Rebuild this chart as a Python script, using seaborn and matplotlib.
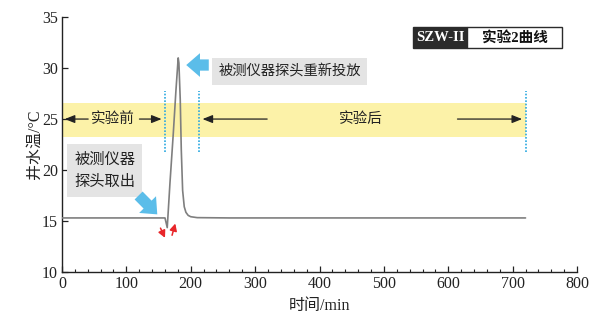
import matplotlib
matplotlib.use("Agg")
import matplotlib.pyplot as plt
from matplotlib.patches import Rectangle
from matplotlib.ticker import MultipleLocator
import seaborn as sns
import pandas as pd

# Well-water temperature record for experiment 2 (time in min, temperature in °C)
time_min = [0, 60, 120, 160, 163.5, 167.7, 172.9, 177, 180.5, 181.6, 183.7,
            185.3, 187.4, 189.9, 192.5, 196, 200, 210, 260, 400, 560, 720]
temp_c = [15.3, 15.3, 15.3, 15.3, 14.35, 18.7, 23.6, 27.8, 31.0, 30.5, 26.9,
          22.0, 18.0, 16.4, 15.85, 15.55, 15.42, 15.33, 15.3, 15.3, 15.3, 15.3]

# Experiment phases
band_low, band_high = 23.2, 26.55
phase_marks = [160, 213, 720]
x_ticks = [0, 100, 200, 300, 400, 500, 600, 700, 800]
y_ticks = [10, 15, 20, 25, 30, 35]

sns.set_theme(style="ticks")
plt.rcParams["font.family"] = ["Liberation Serif", "Noto Sans CJK SC"]
plt.rcParams["axes.unicode_minus"] = False

cjk = ["Noto Sans CJK SC", "Liberation Serif"]

fig = plt.figure(figsize=(5.92, 3.23), dpi=100)
ax = fig.add_axes([0.1047, 0.158, 0.870, 0.789])

df = pd.DataFrame({"t": time_min, "T": temp_c})

# yellow band for the phase labels
ax.axhspan(band_low, band_high, xmin=0, xmax=720 / 800, color="#fcf2a8", lw=0, zorder=0)

sns.lineplot(data=df, x="t", y="T", ax=ax, color="#7f7f7f", lw=1.2, zorder=3)

for xm in phase_marks:
    ax.plot([xm, xm], [21.8, 27.8], ls=(0, (1, 1)), color="#2aa8e0", lw=1.2, zorder=2)

# phase labels with arrows
arrow_kw = dict(arrowstyle="-|>,head_length=0.5,head_width=0.2", color="#222222", lw=0.9)
ax.text(79, 25, "实验前", ha="center", va="center", fontsize=10.5, family=cjk, color="#222222")
ax.annotate("", xy=(0, 25), xytext=(45, 25), arrowprops=arrow_kw)
ax.annotate("", xy=(159, 25), xytext=(116, 25), arrowprops=arrow_kw)
ax.text(465, 25, "实验后", ha="center", va="center", fontsize=10.5, family=cjk, color="#222222")
ax.annotate("", xy=(214, 25), xytext=(323, 25), arrowprops=arrow_kw)
ax.annotate("", xy=(719, 25), xytext=(610, 25), arrowprops=arrow_kw)

# event notes
box = dict(boxstyle="square,pad=0.45", fc="#e4e4e4", ec="none")
ax.text(243, 29.65, "被测仪器探头重新投放", ha="left", va="center", fontsize=10.3,
        family=cjk, color="#222222", bbox=box)
ax.text(19, 19.95, "被测仪器\n探头取出", ha="left", va="center", fontsize=11,
        family=cjk, color="#222222", linespacing=1.35, bbox=box)

blue = "#5bbde9"
fat = dict(arrowstyle="simple,head_length=0.55,head_width=0.95,tail_width=0.45",
           color=blue, lw=0, mutation_scale=18, shrinkA=0, shrinkB=0)
ax.annotate("", xy=(193, 30.3), xytext=(228, 30.3), arrowprops=fat)
ax.annotate("", xy=(148, 15.65), xytext=(119, 17.5), arrowprops=fat)

red = dict(arrowstyle="-|>,head_length=0.35,head_width=0.18", color="#e8262a", lw=1.1,
           shrinkA=0, shrinkB=0)
ax.annotate("", xy=(160, 13.35), xytext=(153, 14.3), arrowprops=red)
ax.annotate("", xy=(176, 14.75), xytext=(171, 13.6), arrowprops=red)

# series tag
tag_y0, tag_y1 = 0.878, 0.961
ax.add_patch(Rectangle((0.6816, tag_y0), 0.1048, tag_y1 - tag_y0, transform=ax.transAxes,
                       fc="#2b2b2b", ec="#2b2b2b", lw=1, zorder=5, clip_on=False))
ax.add_patch(Rectangle((0.7864, tag_y0), 0.1846, tag_y1 - tag_y0, transform=ax.transAxes,
                       fc="white", ec="#2b2b2b", lw=1, zorder=5, clip_on=False))
ax.text(0.734, (tag_y0 + tag_y1) / 2, "SZW-II", transform=ax.transAxes, ha="center",
        va="center", fontsize=10.5, weight="bold", color="white", zorder=6)
ax.text(0.8787, (tag_y0 + tag_y1) / 2, "实验2曲线", transform=ax.transAxes, ha="center",
        va="center", fontsize=10.5, weight="bold", color="#111111", zorder=6,
        family=["Liberation Serif", "Noto Sans CJK SC"])

ax.set_xlim(0, 800)
ax.set_ylim(10, 35)
ax.set_xticks(x_ticks)
ax.set_yticks(y_ticks)
ax.xaxis.set_minor_locator(MultipleLocator(20))
ax.tick_params(axis="both", which="major", direction="in", length=4, width=0.9,
               labelsize=11.5, colors="#222222", pad=3)
ax.tick_params(axis="x", which="minor", direction="in", length=2, width=0.8, color="#222222")
ax.tick_params(axis="y", which="minor", left=False)
for lab in ax.get_xticklabels() + ax.get_yticklabels():
    lab.set_family("Liberation Serif")

for s in ["top", "right"]:
    ax.spines[s].set_visible(False)
for s in ["left", "bottom"]:
    ax.spines[s].set_color("#222222")
    ax.spines[s].set_linewidth(1.0)

ax.set_xlabel("时间/min", fontsize=11.5, color="#222222", labelpad=4)
ax.set_ylabel("井水温/°C", fontsize=11.5, color="#222222", labelpad=-1)

fig.savefig("out.png", dpi=100)
